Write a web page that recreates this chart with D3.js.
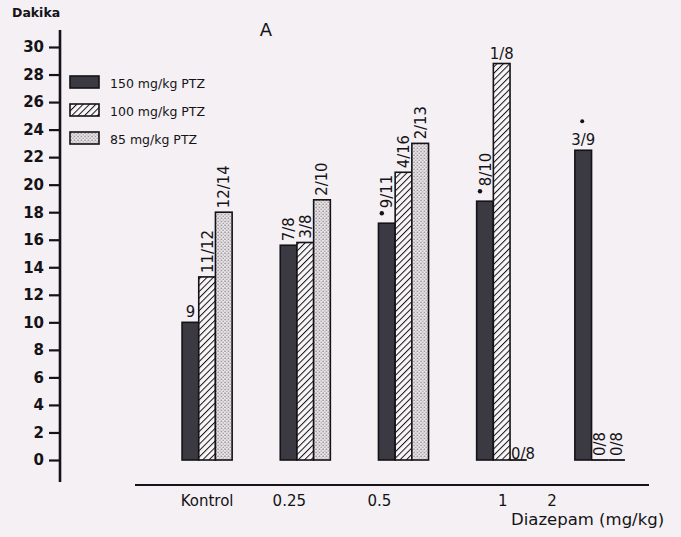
<!DOCTYPE html>
<html>
<head>
<meta charset="utf-8">
<script src="https://cdn.jsdelivr.net/npm/d3@7/dist/d3.min.js"></script>
<style>
  html, body { margin: 0; padding: 0; background: #f4f0f3; }
  svg { display: block; }
</style>
</head>
<body>
<svg id="chart" width="681" height="537"></svg>
<script>
// ---- data ----
const groups = ["Kontrol", "0.25", "0.5", "1", "2"];
const series = ["150 mg/kg PTZ", "100 mg/kg PTZ", "85 mg/kg PTZ"];
const values150 = [10.0, 15.6, 17.2, 18.8, 22.5];
const values100 = [13.3, 15.8, 20.9, 28.8, 0];
const values85  = [18.0, 18.9, 23.0, 0, 0];
const labels150 = ["9", "7/8", "*9/11", "*8/10", "3/9"];
const labels100 = ["11/12", "3/8", "4/16", "1/8", "0/8"];
const labels85  = ["12/14", "2/10", "2/13", "0/8", "0/8"];
const yTicks = [0, 2, 4, 6, 8, 10, 12, 14, 16, 18, 20, 22, 24, 26, 28, 30];
const yTitle = "Dakika";
const xTitle = "Diazepam (mg/kg)";
const panelLabel = "A";

// ---- layout ----
const svg = d3.select("#chart");
const ink = "#151317";
const numFont = "'DejaVu Sans', 'Noto Sans', sans-serif";
const barFont = "'Liberation Sans Narrow', 'DejaVu Sans Condensed', 'Liberation Sans', sans-serif";

const y = d3.scaleLinear().domain([0, 30]).range([460, 47]);
const x0 = d3.scaleBand().domain(groups).range([158, 649]).paddingInner(0.49).paddingOuter(0.245);
const x1 = d3.scaleBand().domain(series).range([0, x0.bandwidth()]).padding(0);

// patterns
const defs = svg.append("defs");
const hatch = defs.append("pattern").attr("id", "hatch").attr("patternUnits", "userSpaceOnUse")
  .attr("width", 4.5).attr("height", 4.5).attr("patternTransform", "rotate(45)");
hatch.append("rect").attr("width", 4.5).attr("height", 4.5).attr("fill", "#f8f6f7");
hatch.append("line").attr("x1", 0).attr("y1", 0).attr("x2", 0).attr("y2", 4.5)
  .attr("stroke", ink).attr("stroke-width", 2);
const dots = defs.append("pattern").attr("id", "dots").attr("patternUnits", "userSpaceOnUse")
  .attr("width", 3.5).attr("height", 3.5);
dots.append("rect").attr("width", 3.5).attr("height", 3.5).attr("fill", "#ece8ea");
dots.append("circle").attr("cx", 1).attr("cy", 1).attr("r", 0.65).attr("fill", "#4d4850");
dots.append("circle").attr("cx", 2.75).attr("cy", 2.75).attr("r", 0.6).attr("fill", "#6d6670");

const fills = { [series[0]]: "#3b3942", [series[1]]: "url(#hatch)", [series[2]]: "url(#dots)" };

// y axis
const yAxis = d3.axisLeft(y).tickValues(yTicks).tickSize(11).tickPadding(5);
const gy = svg.append("g").attr("transform", "translate(60,0)").call(yAxis);
gy.select(".domain").remove();
gy.selectAll(".tick line").attr("stroke", ink).attr("stroke-width", 2.2);
gy.selectAll(".tick text").attr("fill", ink).attr("font-family", numFont)
  .attr("font-weight", "bold").attr("font-size", 15);
svg.append("line").attr("x1", 60).attr("x2", 60).attr("y1", 30).attr("y2", 482)
  .attr("stroke", ink).attr("stroke-width", 2.6);

// x baseline
svg.append("line").attr("x1", 135).attr("x2", 649).attr("y1", 485).attr("y2", 485)
  .attr("stroke", ink).attr("stroke-width", 2);

// titles
svg.append("text").attr("x", 12).attr("y", 17).text(yTitle).attr("fill", ink)
  .attr("font-family", numFont).attr("font-weight", "bold").attr("font-size", 12.5);
svg.append("text").attr("x", 266).attr("y", 36).attr("text-anchor", "middle").text(panelLabel)
  .attr("fill", ink).attr("font-family", numFont).attr("font-size", 18);
svg.append("text").attr("x", 511).attr("y", 525).text(xTitle).attr("fill", ink)
  .attr("font-family", numFont).attr("font-size", 16.5);

// x category labels
const labelShift = [0, -16, -24, 1, -48];
svg.append("g").selectAll("text").data(groups).join("text")
  .attr("x", (d, i) => x0(d) + x0.bandwidth() / 2 + labelShift[i])
  .attr("y", 506)
  .attr("text-anchor", "middle").text(d => d)
  .attr("fill", ink).attr("font-family", numFont).attr("font-size", 15);

// bars
const valueSets = [values150, values100, values85];
const labelSets = [labels150, labels100, labels85];
const rows = [];
groups.forEach((g, gi) => series.forEach((s, si) => rows.push({
  g, gi, s, si, v: valueSets[si][gi], label: labelSets[si][gi]
})));

const gb = svg.append("g");
gb.selectAll("rect").data(rows.filter(d => d.v > 0)).join("rect")
  .attr("x", d => x0(d.g) + x1(d.s))
  .attr("y", d => y(d.v))
  .attr("width", x1.bandwidth())
  .attr("height", d => y(0) - y(d.v))
  .attr("fill", d => fills[d.s])
  .attr("stroke", ink).attr("stroke-width", 1.6);
// zero-height bars drawn as a flat line
gb.selectAll("line").data(rows.filter(d => d.v === 0)).join("line")
  .attr("x1", d => x0(d.g) + x1(d.s))
  .attr("x2", d => x0(d.g) + x1(d.s) + x1.bandwidth())
  .attr("y1", y(0)).attr("y2", y(0))
  .attr("stroke", ink).attr("stroke-width", 1.8);

// bar labels
const horiz = new Set(["0-0", "3-1", "3-2", "4-0"]);
const lab = svg.append("g").attr("fill", ink).attr("font-family", barFont).attr("font-size", 16.5);
rows.forEach(d => {
  const cx = x0(d.g) + x1(d.s) + x1.bandwidth() / 2;
  const key = d.gi + "-" + d.si;
  let txt = d.label;
  const star = txt.startsWith("*");
  if (star) txt = txt.slice(1);
  if (horiz.has(key)) {
    if (key === "3-2") {
      lab.append("text").attr("x", x0(d.g) + x1(d.s) + 1).attr("y", y(0) - 1).text(txt);
    } else {
      lab.append("text").attr("x", cx).attr("y", y(d.v) - 5).attr("text-anchor", "middle").text(txt);
      if (d.gi === 4) {
        lab.append("circle").attr("cx", cx - 1).attr("cy", y(d.v) - 29).attr("r", 2).attr("fill", ink);
      }
    }
  } else {
    const t = lab.append("text")
      .attr("transform", `translate(${cx + 5.5},${y(d.v) - 4}) rotate(-90)`)
      .text(txt);
    if (star) {
      lab.append("circle").attr("cx", cx - 5).attr("cy", y(d.v) - 10).attr("r", 2.2).attr("fill", ink);
      t.attr("transform", `translate(${cx + 5.5},${y(d.v) - 15}) rotate(-90)`);
    }
  }
});

// legend
const lg = svg.append("g").attr("transform", "translate(70,76)");
series.forEach((s, i) => {
  const row = lg.append("g").attr("transform", `translate(0,${i * 28})`);
  row.append("rect").attr("width", 29).attr("height", 12)
    .attr("fill", fills[s]).attr("stroke", ink).attr("stroke-width", 1.6);
  row.append("text").attr("x", 40).attr("y", 11.5).text(s)
    .attr("fill", ink).attr("font-family", numFont).attr("font-size", 12.5);
});
</script>
</body>
</html>
